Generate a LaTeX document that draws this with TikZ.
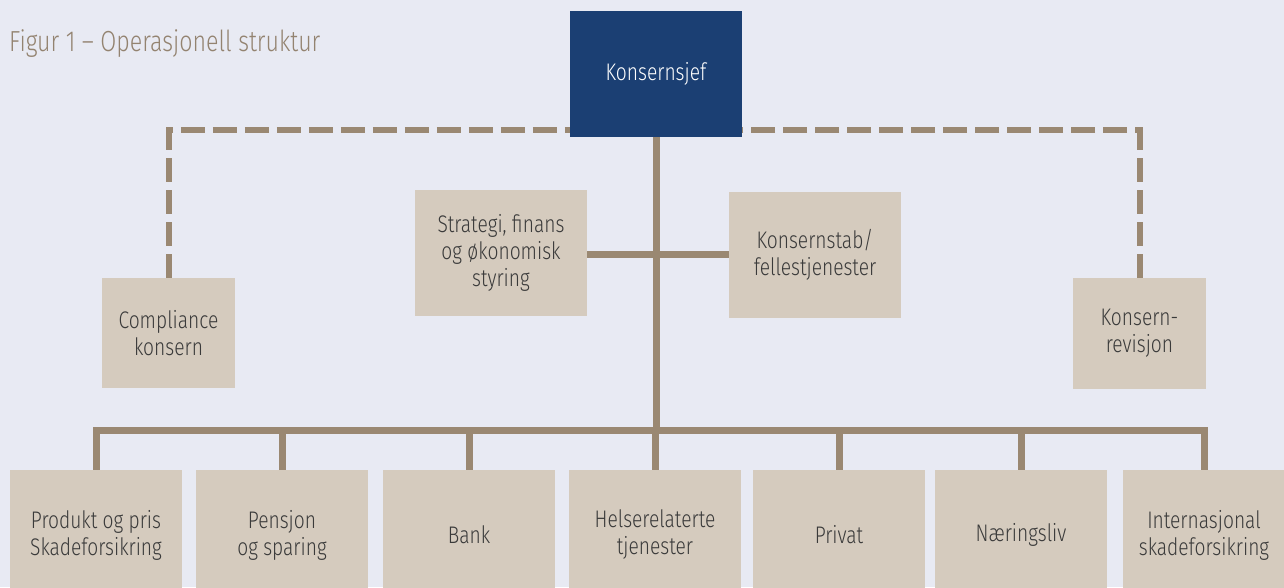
\documentclass[tikz,border=0pt]{standalone}
\usepackage{fontspec}
\setmainfont{Fira Sans}[UprightFont={* Light},FakeStretch=0.8]
\definecolor{bgc}{HTML}{E8EAF3}
\definecolor{boxc}{HTML}{D5CBBE}
\definecolor{linec}{HTML}{9A8872}
\definecolor{bluec}{HTML}{1B3F73}
\definecolor{txtc}{HTML}{3A3A3A}
\definecolor{titlec}{HTML}{938370}
\tikzset{
  unit/.style={fill=boxc, draw=none, inner sep=0pt, align=center, text=txtc,
    font=\fontsize{24}{27}\selectfont},
  botbox/.style={unit, minimum width=172pt, minimum height=130pt},
  conn/.style={draw=linec, line width=7pt},
  dconn/.style={draw=linec, line width=6pt, dash pattern=on 24pt off 8pt},
}
\begin{document}
\begin{tikzpicture}[x=1pt,y=-1pt]
\fill[bgc] (0,0) rectangle (1284,587);
\useasboundingbox (0,0) rectangle (1284,587);

\node[anchor=base west, text=titlec, inner sep=0pt, font=\fontsize{29}{32}\selectfont] (title) at (9,51) {Figur 1 – Operasjonell struktur};

\node[unit, fill=bluec, text=white, minimum width=172pt, minimum height=126pt] (ceo) at (656,74) {Konsernsjef};

\node[unit, minimum width=133pt, minimum height=110pt] (comp) at (168.5,333) {Compliance\\konsern};
\node[unit, minimum width=133pt, minimum height=111pt] (rev) at (1139.5,333.5) {Konsern-\\revisjon};

\node[unit, minimum width=172pt, minimum height=126pt] (strat) at (501,253) {Strategi, finans\\og økonomisk\\styring};
\node[unit, minimum width=172pt, minimum height=126pt] (stab) at (815,255) {Konsernstab/\\fellestjenester};

\node[botbox] (b1) at (96,535) {Produkt og pris\\Skadeforsikring};
\node[botbox] (b2) at (282,535) {Pensjon\\og sparing};
\node[botbox] (b3) at (469,535) {Bank};
\node[botbox] (b4) at (655,535) {Helserelaterte\\tjenester};
\node[botbox] (b5) at (839,535) {Privat};
\node[botbox] (b6) at (1021,535) {Næringsliv};
\node[botbox, minimum width=162pt] (b7) at (1204,535) {Internasjonal\\skadeforsikring};

\coordinate (bus) at (656,430);
\coordinate (hub) at (656,254);

% main trunk
\draw[conn] (ceo.south) -- (bus);
\draw[conn] (strat.east |- hub) -- (stab.west |- hub);

% bus to bottom boxes
\foreach \b in {b1,b2,b3,b4,b5,b6,b7}{
  \draw[conn] (\b.north) |- (bus);
}

% dashed lines
\draw[dconn] (comp.north) |- ([yshift=7pt]ceo.south west);
\draw[dconn] (rev.north) |- ([yshift=7pt]ceo.south east);
\end{tikzpicture}
\end{document}
